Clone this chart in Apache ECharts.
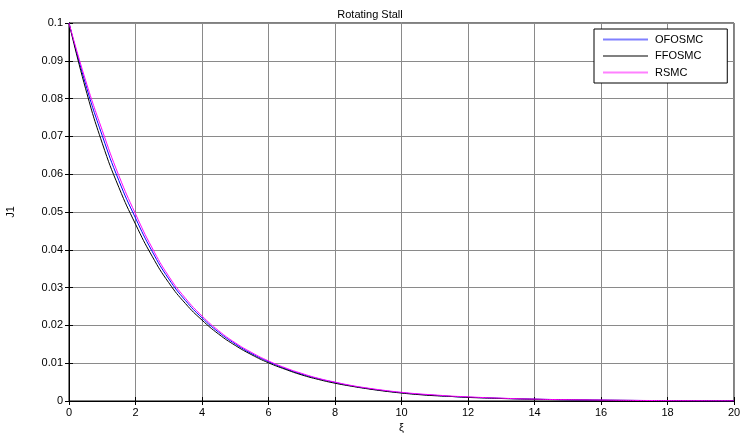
<!DOCTYPE html>
<html><head><meta charset="utf-8">
<script src="https://cdn.jsdelivr.net/npm/echarts@6/dist/echarts.min.js"></script>
<style>html,body{margin:0;padding:0;background:#fff}#c{width:740px;height:434px}</style>
</head><body><div id="c"></div>
<script>
const xs = [0,0.5,1,1.5,2,2.5,3,3.5,4,4.5,5,5.5,6,6.5,7,7.5,8,8.5,9,9.5,10,10.5,11,11.5,12,12.5,13,13.5,14,14.5,15,15.5,16,16.5,17,17.5,18,18.5,19,19.5,20];
const ofosmc = [0.100,0.0838,0.0702,0.0583,0.0484,0.0396,0.0323,0.0266,0.0220,0.0182,0.0151,0.0125,0.0104,0.0086,0.0071,0.0059,0.0049,0.0040,0.0033,0.0027,0.0022,0.0018,0.0015,0.0012,0.0010,0.00085,0.0007,0.00058,0.00048,0.0004,0.00033,0.00027,0.00022,0.00018,0.00015,0.00012,0.0001,0.00008,0.00007,0.00006,0.00005];
const ffosmc = [0.100,0.0826,0.0682,0.0565,0.0468,0.0383,0.0313,0.0258,0.0214,0.0177,0.0147,0.0122,0.0101,0.0084,0.0069,0.0057,0.0047,0.0039,0.0032,0.0026,0.0021,0.0017,0.0014,0.0012,0.00095,0.0008,0.00066,0.00055,0.00045,0.00037,0.0003,0.00025,0.0002,0.00017,0.00014,0.00011,0.00009,0.00008,0.00006,0.00005,0.00004];
const rsmc = [0.100,0.0848,0.0716,0.0596,0.0495,0.0405,0.0330,0.0272,0.0225,0.0186,0.0154,0.0128,0.0106,0.0088,0.0073,0.0060,0.0050,0.0041,0.0034,0.0028,0.0023,0.0019,0.0016,0.0013,0.0011,0.0009,0.00075,0.0006,0.0005,0.0004,0.00035,0.0003,0.00025,0.0002,0.00016,0.00013,0.0001,0.00008,0.00007,0.00006,0.00005];
const seriesNames = ['OFOSMC','FFOSMC','RSMC'];
const seriesColors = ['#0000ff','#000000','#ff00ff'];
const legendColors = ['#8080ff','#808080','#ff80ff'];
const xTicks = [0,2,4,6,8,10,12,14,16,18,20];
const yTicks = [0,0.01,0.02,0.03,0.04,0.05,0.06,0.07,0.08,0.09,0.1];

const font = 'Liberation Sans, Arial, sans-serif';
const pairs = arr => xs.map((x,i)=>[x,arr[i]]);
const allData = [ofosmc, ffosmc, rsmc];
const chart = echarts.init(document.getElementById('c'), null, {renderer:'canvas'});
const tickStyle = {show:true, inside:true, length:4, lineStyle:{color:'#000',width:1}};
chart.setOption({
  animation:false,
  backgroundColor:'#fff',
  title:{text:'Rotating Stall', left:'center', top:4, textStyle:{fontFamily:font, fontSize:11, fontWeight:'normal', color:'#000'}},
  legend:{
    show:true, orient:'vertical', left:594, top:29,
    data:seriesNames.map((n,i)=>({name:n, icon:'rect', itemStyle:{color:legendColors[i]}})),
    itemWidth:45, itemHeight:2, itemGap:5.5,
    padding:[5,24,5,9],
    borderColor:'#000', borderWidth:1, backgroundColor:'#fff',
    textStyle:{fontFamily:font, fontSize:11, color:'#000', padding:[0,0,0,2]}
  },
  grid:{left:69, right:6, top:23, bottom:33, show:true, borderColor:'#000', borderWidth:1, outerBoundsMode:'none', containLabel:false},
  xAxis:[{
    type:'value', min:0, max:20, interval:2,
    name:'ξ', nameLocation:'middle', nameGap:20,
    nameTextStyle:{fontFamily:font, fontSize:11, color:'#000'},
    axisLine:{show:true, lineStyle:{color:'#000', width:1}},
    axisTick:tickStyle,
    axisLabel:{fontFamily:font, fontSize:11, color:'#000', margin:6},
    splitLine:{show:true, lineStyle:{color:'#8a8a8a', width:1}}
  },{
    type:'value', min:0, max:20, interval:2, position:'top',
    axisLine:{show:true, lineStyle:{color:'#000'}}, axisTick:tickStyle,
    axisLabel:{show:false}, splitLine:{show:false}
  }],
  yAxis:[{
    type:'value', min:0, max:0.1, interval:0.01,
    name:'J1', nameLocation:'middle', nameGap:53, nameRotate:90,
    nameTextStyle:{fontFamily:font, fontSize:11, color:'#000'},
    axisLine:{show:true, lineStyle:{color:'#000', width:1}},
    axisTick:tickStyle,
    axisLabel:{fontFamily:font, fontSize:11, color:'#000', margin:6, formatter:v=>String(parseFloat(v.toFixed(2)))},
    splitLine:{show:true, lineStyle:{color:'#8a8a8a', width:1}}
  },{
    type:'value', min:0, max:0.1, interval:0.01, position:'right',
    axisLine:{show:true, lineStyle:{color:'#000'}}, axisTick:tickStyle,
    axisLabel:{show:false}, splitLine:{show:false}
  }],
  series: seriesNames.map((n,i)=>({
    name:n, type:'line', data:pairs(allData[i]), showSymbol:false, smooth:true,
    lineStyle:{color:seriesColors[i], width:1}, itemStyle:{color:seriesColors[i]}
  }))
});
</script></body></html>
